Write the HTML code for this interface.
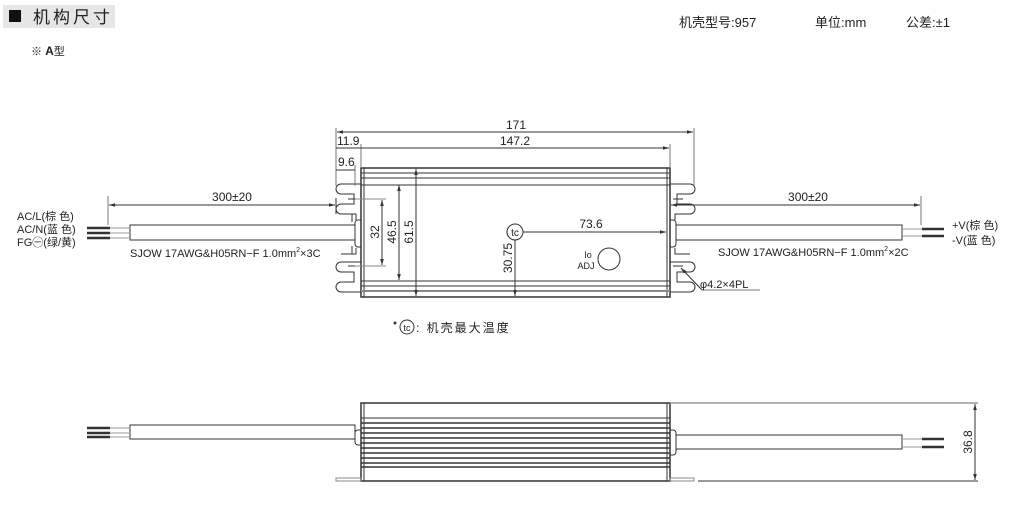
<!DOCTYPE html>
<html><head><meta charset="utf-8"><style>
body{margin:0;background:#fff;width:1009px;height:518px;overflow:hidden}
svg{display:block}
text{font-family:"Liberation Sans","Noto Sans CJK SC",sans-serif;fill:#222}
</style></head><body>
<svg width="1009" height="518" viewBox="0 0 1009 518" xmlns="http://www.w3.org/2000/svg">
<defs>
<marker id="a" viewBox="0 0 10 10" refX="10" refY="5" markerWidth="6" markerHeight="6" orient="auto-start-reverse"><path d="M0,2L10,5L0,8z" fill="#333"/></marker>
</defs>
<!-- header -->
<rect x="3" y="5" width="112" height="23" fill="#e6e6e6"/>
<rect x="9" y="10" width="12" height="12" fill="#111"/>
<text x="33" y="23" font-size="17" letter-spacing="3">机构尺寸</text>
<text x="31" y="55" font-size="11">※ <tspan font-weight="bold" font-size="12">A</tspan>型</text>
<text x="679" y="27" font-size="13">机壳型号:957</text>
<text x="815" y="27" font-size="13">单位:mm</text>
<text x="906" y="27" font-size="13">公差:±1</text>

<g stroke="#333" fill="none" stroke-width="1">
<!-- top view body -->
<rect x="361" y="168" width="309" height="129" stroke-width="1.5"/>
<line x1="364" y1="168" x2="364" y2="297"/><line x1="667" y1="168" x2="667" y2="297"/>
<line x1="361" y1="173" x2="670" y2="173"/><line x1="361" y1="178" x2="670" y2="178"/><line x1="361" y1="185" x2="670" y2="185"/>
<line x1="361" y1="281" x2="670" y2="281"/><line x1="361" y1="286" x2="670" y2="286"/>
<line x1="361" y1="291" x2="670" y2="291" stroke="#888" stroke-width="2"/>
<!-- left flange ears -->
<path d="M361,184H341a5,5 0 0 0 0,10H354v10H341a5,5 0 0 0 0,10H352"/>
<path d="M361,262H341a5,5 0 0 0 0,10H354v10H341a5,5 0 0 0 0,10H361"/>
<path d="M352,214V222M352,246V254M336,198V214a0,0 0 0 0 0,0"/>
<path d="M341,214H356V220M341,254H356V248" />
<path d="M361,220H358a3,3 0 0 0 -3,3V244a3,3 0 0 0 3,3H361"/>
<line x1="348" y1="199" x2="358" y2="199"/><line x1="348" y1="266" x2="358" y2="266"/>
<!-- right flange ears -->
<path d="M670,184H690a5,5 0 0 1 0,10H677v10H690a5,5 0 0 1 0,10H679"/>
<path d="M670,262H690a5,5 0 0 1 0,10H677v10H690a5,5 0 0 1 0,10H670"/>
<path d="M690,214H675V220M690,254H675V248"/>
<path d="M670,220H673a3,3 0 0 1 3,3V244a3,3 0 0 1 -3,3H670"/>
<line x1="673" y1="199" x2="683" y2="199"/><line x1="673" y1="266" x2="683" y2="266"/>
<!-- cables top -->
<rect x="130" y="225" width="225" height="15"/>
<rect x="676" y="225" width="226" height="15"/>
<!-- dims -->
<line x1="336" y1="128" x2="336" y2="186" stroke="#777"/>
<line x1="694" y1="128" x2="694" y2="186" stroke="#777"/>
<line x1="361" y1="144" x2="361" y2="168" stroke="#777"/>
<line x1="670" y1="144" x2="670" y2="168" stroke="#777"/>
<line x1="355" y1="165" x2="355" y2="186" stroke="#777"/>
<line x1="337" y1="132" x2="693" y2="132" marker-start="url(#a)" marker-end="url(#a)"/>
<line x1="336" y1="148" x2="669" y2="148" marker-end="url(#a)"/>
<line x1="336" y1="170" x2="355" y2="170"/>
<line x1="382" y1="200" x2="382" y2="265" marker-start="url(#a)" marker-end="url(#a)"/>
<line x1="399" y1="185" x2="399" y2="280" marker-start="url(#a)" marker-end="url(#a)"/>
<line x1="416" y1="169" x2="416" y2="296" marker-start="url(#a)" marker-end="url(#a)"/>
<line x1="355" y1="199" x2="386" y2="199" stroke="#888"/><line x1="355" y1="266" x2="386" y2="266" stroke="#888"/>
<line x1="515" y1="240" x2="515" y2="296" marker-end="url(#a)"/>
<line x1="523" y1="232" x2="666" y2="232" marker-end="url(#a)"/>
<circle cx="515" cy="232" r="8"/>
<circle cx="609" cy="259" r="11"/>
<line x1="108" y1="196" x2="108" y2="225" stroke="#777"/>
<line x1="109" y1="205" x2="335" y2="205" marker-start="url(#a)" marker-end="url(#a)"/>
<line x1="921" y1="196" x2="921" y2="225" stroke="#777"/>
<line x1="671" y1="205" x2="920" y2="205" marker-start="url(#a)" marker-end="url(#a)"/>
<path d="M702,290H760" stroke="#777"/><line x1="702" y1="290" x2="681" y2="268" marker-end="url(#a)"/>
</g>
<!-- wires -->
<g stroke="#333" stroke-width="2.5">
<line x1="87" y1="228" x2="110" y2="228"/><line x1="87" y1="233" x2="110" y2="233"/><line x1="87" y1="238" x2="110" y2="238"/>
<line x1="922" y1="229" x2="944" y2="229"/><line x1="922" y1="236" x2="944" y2="236"/>
</g>
<g stroke="#999" stroke-width="1">
<line x1="110" y1="228" x2="130" y2="228"/><line x1="110" y1="233" x2="130" y2="233"/><line x1="110" y1="238" x2="130" y2="238"/>
<line x1="902" y1="229" x2="922" y2="229"/><line x1="902" y1="236" x2="922" y2="236"/>
</g>
<!-- labels top -->
<g font-size="12">
<text x="516" y="129" text-anchor="middle">171</text>
<text x="515" y="145" text-anchor="middle">147.2</text>
<text x="337" y="145">11.9</text>
<text x="338" y="166">9.6</text>
<text x="232" y="201" text-anchor="middle">300±20</text>
<text x="808" y="201" text-anchor="middle">300±20</text>
<text x="591" y="228" text-anchor="middle">73.6</text>
<text transform="translate(379,232) rotate(-90)" text-anchor="middle">32</text>
<text transform="translate(396,232) rotate(-90)" text-anchor="middle">46.5</text>
<text transform="translate(413,232) rotate(-90)" text-anchor="middle">61.5</text>
<text transform="translate(512,258) rotate(-90)" text-anchor="middle">30.75</text>
<text transform="translate(972,442) rotate(-90)" text-anchor="middle">36.8</text>
</g>
<text x="515" y="236" font-size="10" text-anchor="middle">tc</text>
<text x="588" y="258" font-size="9" text-anchor="middle">Io</text>
<text x="586" y="269" font-size="9" text-anchor="middle">ADJ</text>
<g font-size="11">
<text x="17" y="220">AC/L(棕 色)</text>
<text x="17" y="233">AC/N(蓝 色)</text>
<text x="17" y="246">FG㊀(绿/黄)</text>
<text x="952" y="229">+V(棕 色)</text>
<text x="952" y="244">-V(蓝 色)</text>
<text x="130" y="257">SJOW 17AWG&amp;H05RN−F  1.0mm<tspan font-size="7" dy="-5">2</tspan><tspan dy="5">×3C</tspan></text>
<text x="718" y="256">SJOW 17AWG&amp;H05RN−F  1.0mm<tspan font-size="7" dy="-5">2</tspan><tspan dy="5">×2C</tspan></text>
<text x="700" y="288">φ4.2×4PL</text>
</g>
<!-- legend -->
<circle cx="395" cy="323" r="1.5" fill="#333"/>
<circle cx="407" cy="327" r="7" fill="none" stroke="#333"/>
<text x="407" y="331" font-size="9" text-anchor="middle">tc</text>
<text x="416" y="332" font-size="12" letter-spacing="2">: 机壳最大温度</text>

<!-- bottom view -->
<g stroke="#333" fill="none">
<rect x="361" y="403" width="309" height="78" stroke-width="1.5"/>
<line x1="364" y1="403" x2="364" y2="481"/><line x1="667" y1="403" x2="667" y2="481"/>
<line x1="361" y1="418" x2="670" y2="418"/>
<line x1="670" y1="403" x2="978" y2="403" stroke="#999" stroke-width="1.5"/>
<line x1="698" y1="481" x2="978" y2="481"/>
<line x1="975" y1="404" x2="975" y2="480" marker-start="url(#a)" marker-end="url(#a)"/>
<rect x="130" y="425" width="225" height="14"/>
<rect x="676" y="435" width="226" height="14"/>
<path d="M361,430H358a3,3 0 0 0 -3,3V442a3,3 0 0 0 3,3H361"/>
<path d="M670,430H673a3,3 0 0 1 3,3V452a3,3 0 0 1 -3,3H670"/>
<rect x="336" y="478" width="25" height="3" stroke="#888"/>
<rect x="670" y="478" width="24" height="3" stroke="#888"/>
</g>
<g stroke="#333" stroke-width="1.6">
<line x1="361" y1="423" x2="670" y2="423"/><line x1="361" y1="428" x2="670" y2="428"/>
<line x1="361" y1="433" x2="670" y2="433"/><line x1="361" y1="438" x2="670" y2="438"/>
<line x1="361" y1="443" x2="670" y2="443"/><line x1="361" y1="448" x2="670" y2="448"/>
<line x1="361" y1="453" x2="670" y2="453"/><line x1="361" y1="458" x2="670" y2="458"/>
<line x1="361" y1="463" x2="670" y2="463"/><line x1="361" y1="467" x2="670" y2="467"/>
</g>
<g stroke="#333" stroke-width="2.5">
<line x1="87" y1="428" x2="110" y2="428"/><line x1="87" y1="433" x2="110" y2="433"/><line x1="87" y1="437" x2="110" y2="437"/>
<line x1="922" y1="439" x2="944" y2="439"/><line x1="922" y1="447" x2="944" y2="447"/>
</g>
<g stroke="#999">
<line x1="110" y1="428" x2="130" y2="428"/><line x1="110" y1="433" x2="130" y2="433"/><line x1="110" y1="437" x2="130" y2="437"/>
<line x1="902" y1="439" x2="922" y2="439"/><line x1="902" y1="447" x2="922" y2="447"/>
</g>
</svg>
</body></html>
